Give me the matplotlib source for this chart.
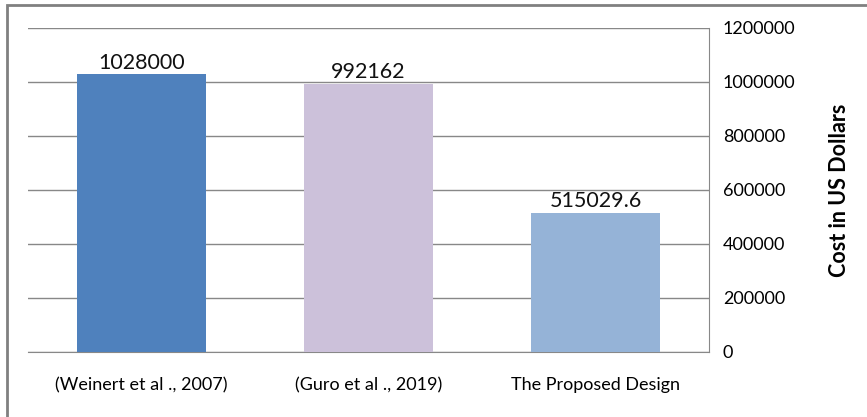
import numpy as np
import matplotlib.pyplot as plt
from matplotlib.patches import Rectangle
from matplotlib.ticker import FuncFormatter

categories = ['(Weinert et al ., 2007)', '(Guro et al ., 2019)', 'The Proposed Design']
costs = [1028000, 992162, 515029.6]
cost_labels = ['1028000', '992162', '515029.6']
colors = ['#4F81BD', '#CCC1DA', '#95B3D7']

plt.rcParams['font.family'] = ['Lato', 'DejaVu Sans']

fig = plt.figure(figsize=(8.67, 4.17), dpi=100)
# outer frame like the original chart area
fig.patches.append(Rectangle((7/867, -0.05), 1.1, 1 - 5/417 + 0.05, transform=fig.transFigure,
                             fill=False, edgecolor='#808080', linewidth=2))
ax = fig.add_axes([28/867, 1 - 352/417, (709 - 28)/867, (352 - 28)/417])

x = np.arange(len(categories))
ax.bar(x, costs, width=0.57, color=colors, zorder=3)
for xi, v, lab in zip(x, costs, cost_labels):
    ax.text(xi, v + 6000, lab, ha='center', va='bottom', fontsize=15.5, color='#111111')

ax.set_xlim(-0.5, 2.5)
ax.set_ylim(0, 1200000)
ax.set_yticks(np.arange(0, 1200001, 200000))
ax.yaxis.set_major_formatter(FuncFormatter(lambda v, p: '%d' % v))
ax.yaxis.tick_right()
ax.yaxis.set_label_position('right')
ax.tick_params(axis='y', length=0, pad=10, labelsize=13)
ax.tick_params(axis='x', length=0, pad=18, labelsize=13)
ax.set_xticks(x)
ax.set_xticklabels(categories)
ax.grid(axis='y', color='#888888', linewidth=1, zorder=0)
for s in ['top', 'left']:
    ax.spines[s].set_visible(False)
for s in ['right', 'bottom']:
    ax.spines[s].set_color('#888888')
ax.set_ylabel('Cost in US Dollars', fontsize=15.5, fontweight='bold', labelpad=24)

plt.savefig('out.png', dpi=100)
